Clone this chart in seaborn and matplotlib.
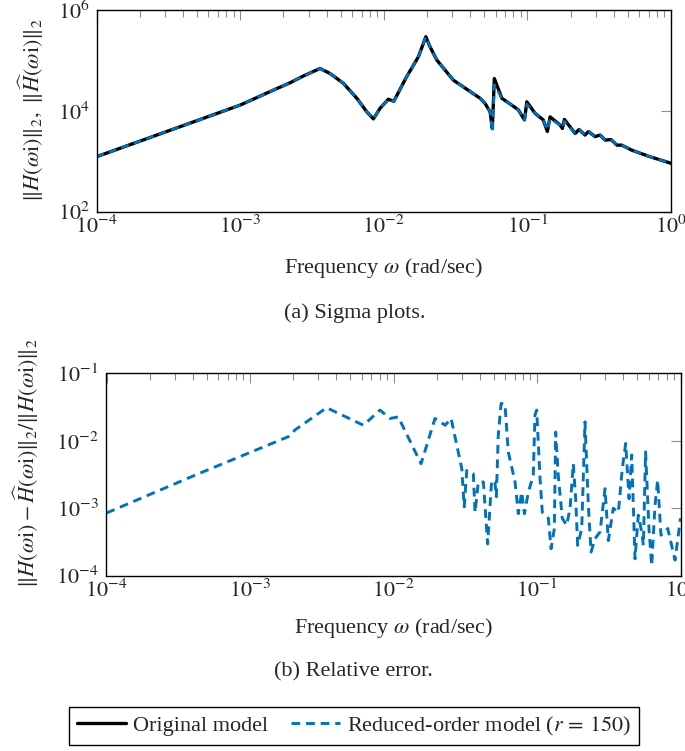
import numpy as np
import pandas as pd
import matplotlib
matplotlib.use('Agg')
import matplotlib.pyplot as plt
import seaborn as sns
from matplotlib.ticker import LogLocator, NullFormatter, NullLocator
from matplotlib.lines import Line2D

# ---------------- data ----------------
freq_sigma = [1.00e-4, 2.63e-4, 1.00e-3, 1.70e-3, 2.24e-3, 2.75e-3, 3.60e-3, 4.23e-3,
              5.24e-3, 6.49e-3, 7.62e-3, 8.47e-3, 9.42e-3, 1.076e-2, 1.175e-2, 1.445e-2,
              1.742e-2, 1.963e-2, 2.10e-2, 2.34e-2, 3.05e-2, 4.68e-2, 5.07e-2, 5.50e-2,
              5.70e-2, 5.89e-2, 6.64e-2, 8.65e-2, 9.55e-2, 9.91e-2, 1.132e-1, 1.29e-1,
              1.377e-1, 1.439e-1, 1.69e-1, 1.754e-1, 1.811e-1, 2.15e-1, 2.29e-1, 2.52e-1,
              2.66e-1, 2.96e-1, 3.21e-1, 3.48e-1, 3.83e-1, 4.20e-1, 4.54e-1, 5.33e-1,
              6.97e-1, 1.0]
original_sigma = [1230, 3310, 1.30e4, 2.57e4, 3.63e4, 4.90e4, 6.92e4, 5.50e4,
                  3.51e4, 1.78e4, 9.55e3, 6.92e3, 1.12e4, 1.70e4, 1.55e4, 4.79e4,
                  1.175e5, 2.95e5, 1.86e5, 1.02e5, 4.07e4, 1.78e4, 1.41e4, 9.55e3,
                  4.47e3, 4.37e4, 1.78e4, 1.05e4, 6.61e3, 1.51e4, 8.91e3, 6.61e3,
                  3.89e3, 7.59e3, 5.25e3, 4.47e3, 6.76e3, 3.55e3, 4.27e3, 3.31e3,
                  3.89e3, 3.09e3, 3.31e3, 2.63e3, 2.69e3, 2.09e3, 2.09e3, 1.66e3,
                  1.26e3, 912]
reduced_sigma = [1230, 3310, 1.30e4, 2.57e4, 3.63e4, 4.90e4, 6.92e4, 5.50e4,
                 3.51e4, 1.78e4, 9.55e3, 6.92e3, 1.12e4, 1.70e4, 1.55e4, 4.79e4,
                 1.175e5, 2.95e5, 1.86e5, 1.02e5, 4.07e4, 1.78e4, 1.41e4, 9.55e3,
                 3.80e3, 3.30e4, 1.78e4, 1.05e4, 6.61e3, 1.35e4, 8.91e3, 6.61e3,
                 4.20e3, 7.00e3, 5.25e3, 4.60e3, 6.20e3, 3.55e3, 4.27e3, 3.31e3,
                 3.89e3, 3.09e3, 3.31e3, 2.63e3, 2.69e3, 2.09e3, 2.09e3, 1.66e3,
                 1.26e3, 912]

freq_err = [1.00e-4, 4.14e-4, 1.85e-3, 2.06e-3, 3.42e-3, 6.17e-3, 8.05e-3, 9.46e-3,
            1.079e-2, 1.556e-2, 1.945e-2, 2.29e-2, 2.52e-2, 2.99e-2, 3.11e-2, 3.24e-2,
            3.60e-2, 3.70e-2, 3.90e-2, 4.23e-2, 4.53e-2, 4.83e-2, 5.09e-2, 5.21e-2,
            5.37e-2, 5.62e-2, 5.98e-2, 6.31e-2, 7.03e-2, 7.41e-2, 7.82e-2, 8.17e-2,
            8.71e-2, 9.42e-2, 9.68e-2, 9.95e-2, 1.05e-1, 1.089e-1, 1.20e-1, 1.253e-1,
            1.321e-1, 1.349e-1, 1.406e-1, 1.50e-1, 1.61e-1, 1.70e-1, 1.79e-1, 1.86e-1,
            1.92e-1, 2.05e-1, 2.16e-1, 2.28e-1, 2.38e-1, 2.54e-1, 2.75e-1, 2.98e-1,
            3.14e-1, 3.40e-1, 3.69e-1, 3.93e-1, 4.15e-1, 4.38e-1, 4.57e-1, 4.82e-1,
            5.08e-1, 5.37e-1, 5.51e-1, 5.71e-1, 6.03e-1, 6.30e-1, 6.64e-1, 6.93e-1,
            7.31e-1, 8.15e-1, 9.16e-1, 1.0]
rel_err = [8.5e-4, 3.09e-3, 1.15e-2, 1.45e-2, 3.09e-2, 1.70e-2, 2.85e-2, 2.14e-2,
           2.26e-2, 4.57e-3, 2.14e-2, 1.70e-2, 2.14e-2, 3.89e-3, 1.05e-3, 3.63e-3,
           3.24e-3, 8.7e-4, 2.45e-3, 2.45e-3, 2.95e-4, 2.60e-3, 2.45e-3, 1.48e-3,
           1.20e-2, 3.58e-2, 3.47e-2, 6.84e-3, 2.45e-3, 8.3e-4, 1.74e-3, 8.3e-4,
           1.74e-3, 3.09e-3, 2.40e-2, 2.85e-2, 2.75e-3, 8.7e-4, 7.1e-4, 2.51e-4,
           5.0e-4, 1.35e-2, 3.09e-3, 7.1e-4, 5.6e-4, 1.0e-3, 4.57e-3, 1.38e-3,
           2.82e-4, 5.0e-4, 1.91e-2, 1.10e-3, 2.24e-4, 3.55e-4, 4.47e-4, 1.95e-3,
           3.31e-4, 1.0e-3, 8.7e-4, 3.89e-3, 9.12e-3, 1.38e-3, 6.17e-3, 1.78e-4,
           7.9e-4, 4.47e-4, 2.82e-4, 6.84e-3, 5.0e-4, 1.41e-4, 1.10e-3, 2.60e-3,
           3.98e-4, 5.0e-4, 1.70e-4, 7.1e-4]

x_ticks = [1e-4, 1e-3, 1e-2, 1e-1, 1e0]
x_tick_labels = [r'$10^{-4}$', r'$10^{-3}$', r'$10^{-2}$', r'$10^{-1}$', r'$10^{0}$']
top_yticks = [1e2, 1e4, 1e6]
top_ytick_labels = [r'$10^{2}$', r'$10^{4}$', r'$10^{6}$']
bot_yticks = [1e-4, 1e-3, 1e-2, 1e-1]
bot_ytick_labels = [r'$10^{-4}$', r'$10^{-3}$', r'$10^{-2}$', r'$10^{-1}$']

legend_labels = ['Original model', r'Reduced-order model ($r\, =\, 150$)']

# ---------------- style ----------------
sns.set_style('white')
plt.rcParams['font.family'] = ['Liberation Serif', 'DejaVu Serif']
plt.rcParams['mathtext.fontset'] = 'stix'
FS = 16
BLUE = '#0072BD'
W, H = 685, 751

fig = plt.figure(figsize=(W / 100, H / 100), dpi=100)


def ax_px(l, t, r, b):
    return fig.add_axes([l / W, 1 - b / H, (r - l) / W, (b - t) / H])


ax1 = ax_px(96.5, 10, 671, 211.7)
ax2 = ax_px(106.5, 373.3, 680.5, 575.7)
for ax in (ax1, ax2):
    ax.set_xscale('log')
    ax.set_yscale('log')

df1 = pd.DataFrame({'freq': freq_sigma, 'orig': original_sigma, 'red': reduced_sigma})
df2 = pd.DataFrame({'freq': freq_err, 'err': rel_err})

sns.lineplot(data=df1, x='freq', y='orig', ax=ax1, color='black', linewidth=2.4,
             estimator=None, sort=False)
sns.lineplot(data=df1, x='freq', y='red', ax=ax1, color=BLUE, linewidth=1.9,
             estimator=None, sort=False)
ax1.lines[-1].set_dashes([3, 2])
sns.lineplot(data=df2, x='freq', y='err', ax=ax2, color=BLUE, linewidth=2.1,
             estimator=None, sort=False)
ax2.lines[-1].set_dashes([3, 2])

ax1.set_ylim(1e2, 1e6)
ax2.set_ylim(1e-4, 1e-1)

for ax, yt, ytl, ypad in ((ax1, top_yticks, top_ytick_labels, 5), (ax2, bot_yticks, bot_ytick_labels, 5.5)):
    ax.set_xlim(1e-4, 1e0)
    ax.set_xticks(x_ticks)
    ax.set_xticklabels(x_tick_labels, fontsize=FS)
    ax.xaxis.set_minor_locator(LogLocator(base=10, subs=np.arange(2, 10)))
    ax.xaxis.set_minor_formatter(NullFormatter())
    ax.set_yticks(yt)
    ax.set_yticklabels(ytl, fontsize=FS)
    ax.yaxis.set_minor_locator(NullLocator())
    ax.tick_params(which='both', direction='in', top=True, right=True,
                   color='0.55', width=0.8)
    ax.tick_params(which='major', length=7.5)
    ax.tick_params(which='minor', length=4.8)
    ax.tick_params(axis='x', which='major', pad=3)
    ax.tick_params(axis='y', which='major', pad=ypad)
    ax.set_xlabel('')
    ax.set_ylabel('')
    for s in ax.spines.values():
        s.set_color('black')
        s.set_linewidth(1.0)
    ax.grid(False)


def ftxt(x, y, s, **kw):
    fig.text(x / W, 1 - y / H, s, fontsize=FS, ha='center', va='center', **kw)


ftxt(383.8, 268, r'Frequency $\omega$ (rad/sec)')
ftxt(355, 313, '(a) Sigma plots.')
ftxt(31, 110, r'$\|H(\omega\mathrm{i})\|_2,\ \|\widehat{H}(\omega\mathrm{i})\|_2$', rotation=90)
ftxt(393.5, 628, r'Frequency $\omega$ (rad/sec)')
ftxt(353, 672, '(b) Relative error.')
ftxt(26, 463, r'$\|H(\omega\mathrm{i})-\widehat{H}(\omega\mathrm{i})\|_2/\|H(\omega\mathrm{i})\|_2$',
     rotation=90)

handles = [Line2D([], [], color='black', linewidth=2.4),
           Line2D([], [], color=BLUE, linewidth=2.1, dashes=[3, 2])]
leg = fig.legend(handles, legend_labels, loc='center', bbox_to_anchor=(354 / W, 1 - 726 / H),
                 ncol=2, frameon=True, fancybox=False, edgecolor='black', framealpha=1,
                 fontsize=FS, handlelength=2.2, columnspacing=1.0, handletextpad=0.35,
                 borderpad=0.35, borderaxespad=0)
leg.get_frame().set_linewidth(1.0)

fig.savefig('out.png', dpi=100)
